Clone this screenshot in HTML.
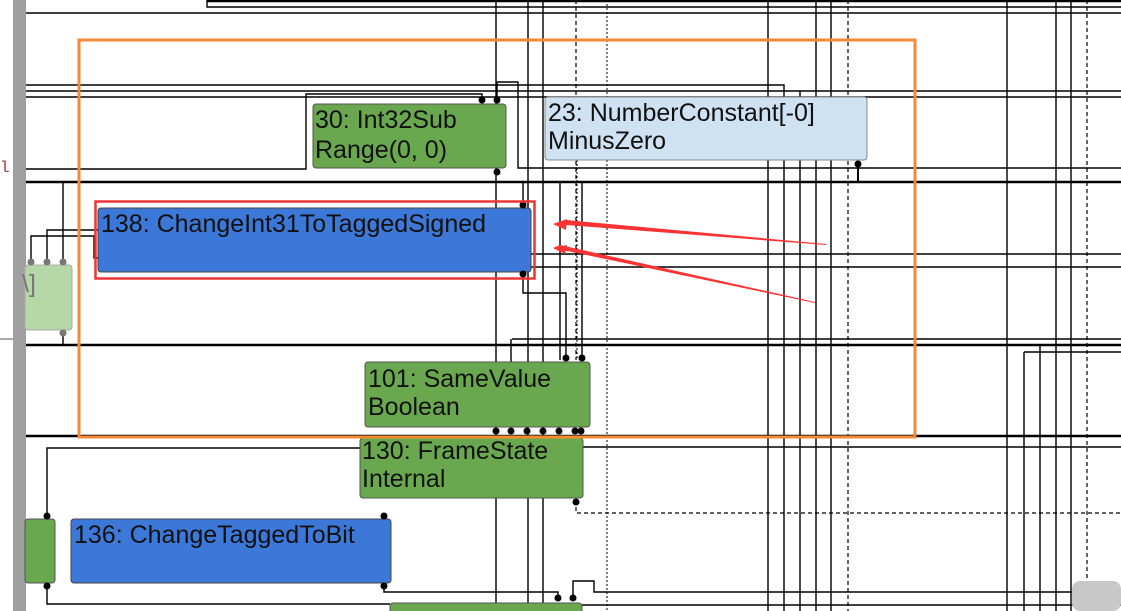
<!DOCTYPE html>
<html><head><meta charset="utf-8"><style>
html,body{margin:0;padding:0;background:#fff;}
svg{display:block;}
text{font-family:"Liberation Sans",sans-serif;font-size:25px;fill:#111;}
</style></head><body>
<svg width="1121" height="611" viewBox="0 0 1121 611" xmlns="http://www.w3.org/2000/svg">
<rect width="1121" height="611" fill="#fff"/>
<g stroke="#000" stroke-width="1.4" fill="none">
<line x1="207" y1="1" x2="1121" y2="1" stroke-width="2.5"/>
<polyline points="207,0 207,7 1121,7"/>
<line x1="25" y1="13" x2="1121" y2="13"/>
<polyline points="25,85 784,85 784,182"/>
<line x1="25" y1="91" x2="1121" y2="91"/>
<line x1="25" y1="97" x2="1121" y2="97"/>
<polyline points="25,169 306,169 306,94 482,94 482,100"/>
<polyline points="497,100 497,82 518,82 518,168 1121,168"/>
<line x1="25" y1="182" x2="1121" y2="182" stroke-width="2.5"/>
<line x1="530" y1="254" x2="1121" y2="254"/>
<line x1="530" y1="267" x2="1121" y2="267"/>
<polyline points="523,272 523,293 566,293 566,358"/>
<line x1="512" y1="339" x2="1121" y2="339"/>
<line x1="25" y1="345" x2="1121" y2="345" stroke-width="2.5"/>
<line x1="1024" y1="352" x2="1121" y2="352"/>
<line x1="25" y1="436" x2="1121" y2="436" stroke-width="2.5"/>
<polyline points="47,520 47,448 360,448"/>
<line x1="583" y1="447" x2="1121" y2="447"/>
<polyline points="47,583 47,604 390,604"/>
<line x1="582" y1="605" x2="1121" y2="605"/>
<polyline points="384,585 384,592 558,592 558,600"/>
<polyline points="573,600 573,581 594,581 594,592 1121,592"/>
<polyline points="31,262 31,236 94,236 94,258 98,258"/>
<polyline points="47,262 47,230 98,230"/>
<polyline points="63,262 63,182"/>
<line x1="63" y1="330" x2="63" y2="345"/>
<line x1="496" y1="0" x2="496" y2="611"/>
<line x1="523" y1="182" x2="523" y2="205"/>
<line x1="511" y1="339" x2="511" y2="362"/>
<line x1="528" y1="0" x2="528" y2="611"/>
<line x1="543" y1="0" x2="543" y2="611"/>
<line x1="560" y1="182" x2="560" y2="360"/>
<line x1="582" y1="182" x2="582" y2="360"/>
<line x1="768" y1="0" x2="768" y2="611"/>
<line x1="784" y1="182" x2="784" y2="611"/>
<line x1="800" y1="91" x2="800" y2="611"/>
<line x1="816" y1="0" x2="816" y2="611"/>
<line x1="831" y1="0" x2="831" y2="611"/>
<line x1="858" y1="165" x2="858" y2="182" stroke-width="2"/>
<line x1="1007" y1="0" x2="1007" y2="611"/>
<line x1="1024" y1="352" x2="1024" y2="611"/>
<line x1="1040" y1="345" x2="1040" y2="611"/>
<line x1="1056" y1="0" x2="1056" y2="611"/>
<line x1="1071" y1="0" x2="1071" y2="611"/>
</g>
<g stroke="#000" stroke-width="1.2" stroke-dasharray="4,3" fill="none">
<line x1="576" y1="0" x2="576" y2="360"/>
<line x1="848" y1="0" x2="848" y2="611"/>
<line x1="1087" y1="0" x2="1087" y2="611"/>
<polyline points="576,500 576,513 1121,513"/>
</g>
<g stroke="#000" stroke-width="1" stroke-dasharray="2,2" fill="none">
<line x1="607" y1="0" x2="607" y2="611"/>
<line x1="577" y1="160" x2="577" y2="360"/>
</g>
<rect x="13" y="0" width="12" height="611" fill="#a0a0a0"/>
<line x1="25.5" y1="0" x2="25.5" y2="611" stroke="#6fa8dc" stroke-width="1"/>
<line x1="0" y1="339" x2="13" y2="339" stroke="#aaa" stroke-width="2"/>
<text x="0" y="172" style="font-family:'Liberation Mono',monospace;font-size:16px;fill:#a33">l</text>
<rect x="25" y="265" width="47" height="65" rx="3" fill="#b6d7a8" stroke="#aaa"/>
<text x="22" y="292" style="fill:#777">\]</text>
<rect x="25" y="519" width="30" height="64" rx="3" fill="#6aa84f" stroke="#555"/>
<rect x="313" y="104" width="193" height="64" rx="3" fill="#6aa84f" stroke="#555"/>
<text x="315" y="128">30: Int32Sub</text><text x="315" y="158">Range(0, 0)</text>
<rect x="545" y="97" width="322" height="63" rx="3" fill="#cfe2f3" stroke="#888"/>
<text x="548" y="121">23: NumberConstant[-0]</text><text x="548" y="149">MinusZero</text>
<rect x="98" y="208" width="433" height="64" rx="3" fill="#3c78d8" stroke="#444"/>
<text x="101" y="232">138: ChangeInt31ToTaggedSigned</text>
<rect x="365" y="362" width="225" height="65" rx="3" fill="#6aa84f" stroke="#555"/>
<text x="368" y="387">101: SameValue</text><text x="368" y="415">Boolean</text>
<rect x="360" y="438" width="223" height="60" rx="3" fill="#6aa84f" stroke="#555"/>
<text x="362" y="459">130: FrameState</text><text x="362" y="487">Internal</text>
<rect x="71" y="519" width="320" height="64" rx="3" fill="#3c78d8" stroke="#444"/>
<text x="74" y="543">136: ChangeTaggedToBit</text>
<rect x="390" y="603" width="192" height="20" rx="3" fill="#6aa84f" stroke="#555"/>
<g fill="#000">
<circle cx="482" cy="100" r="3.5"/><circle cx="497" cy="100" r="3.5"/><circle cx="497" cy="172" r="3.5"/>
<circle cx="523" cy="205" r="3.5"/><circle cx="523" cy="274" r="3.5"/><circle cx="858" cy="164" r="3.5"/>
<circle cx="566" cy="358" r="3.5"/><circle cx="582" cy="358" r="3.5"/>
<circle cx="496" cy="431" r="3.5"/><circle cx="511" cy="431" r="3.5"/><circle cx="527" cy="431" r="3.5"/><circle cx="543" cy="431" r="3.5"/><circle cx="559" cy="431" r="3.5"/><circle cx="575" cy="431" r="3.5"/><circle cx="581" cy="431" r="3.5"/>
<circle cx="576" cy="502" r="3.5"/><circle cx="47" cy="516" r="3.5"/><circle cx="384" cy="516" r="3.5"/>
<circle cx="47" cy="586" r="3.5"/><circle cx="384" cy="586" r="3.5"/><circle cx="558" cy="598" r="3.5"/><circle cx="573" cy="598" r="3.5"/>
</g>
<g fill="#777"><circle cx="31" cy="262" r="3.5"/><circle cx="47" cy="262" r="3.5"/><circle cx="63" cy="262" r="3.5"/><circle cx="63" cy="333" r="3.5"/></g>
<rect x="79" y="40" width="836" height="397" fill="none" stroke="#f58a35" stroke-width="3"/>
<rect x="95.5" y="201.5" width="439" height="77" fill="none" stroke="#ee3333" stroke-width="2.5"/>
<polygon points="553,224 826,245 826,244 566,220" fill="#f33"/>
<polygon points="553,224 567,219 566,230" fill="#f33"/>
<polygon points="553,248 815,303 815,302 560,245" fill="#f33"/>
<polygon points="553,248 567,245 565,254" fill="#f33"/>
<rect x="1072" y="581" width="49" height="30" rx="8" fill="#c8c8c8"/>
</svg>
</body></html>
